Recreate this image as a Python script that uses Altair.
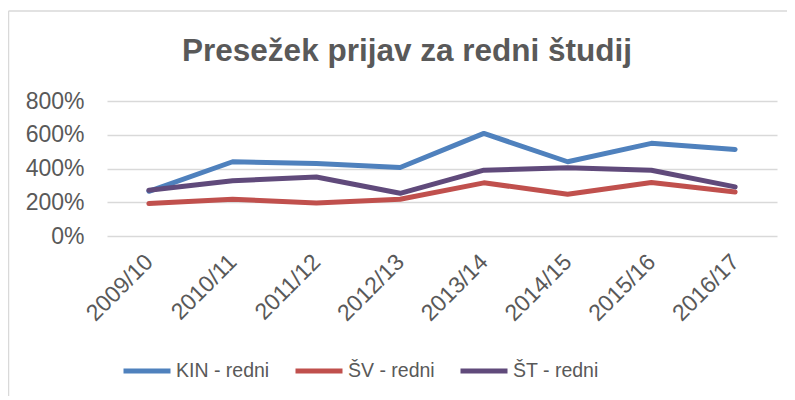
import altair as alt
import pandas as pd

years = ["2009/10", "2010/11", "2011/12", "2012/13", "2013/14", "2014/15", "2015/16", "2016/17"]
series_names = ["KIN - redni", "ŠV - redni", "ŠT - redni"]
kin = [2.65, 4.40, 4.30, 4.06, 6.08, 4.40, 5.49, 5.13]
sv = [1.92, 2.18, 1.96, 2.18, 3.15, 2.48, 3.17, 2.61]
st = [2.71, 3.27, 3.50, 2.53, 3.90, 4.04, 3.90, 2.91]
colors = ["#4F81BD", "#C0504D", "#604A7B"]
y_ticks = [0, 2, 4, 6, 8]

rows = []
for name, vals in zip(series_names, [kin, sv, st]):
    for y, v in zip(years, vals):
        rows.append({"Leto": y, "Serija": name, "Vrednost": v})
df = pd.DataFrame(rows)

FONT = "Liberation Sans"
GRAY = "#595959"

lines = alt.Chart(df).mark_line(strokeWidth=5, strokeCap="round", strokeJoin="round").encode(
    x=alt.X("Leto:N", sort=years,
            scale=alt.Scale(type="point", padding=0.5),
            axis=alt.Axis(title=None, labelAngle=-45, labelAlign="right", labelBaseline="middle",
                          labelPadding=22, ticks=False, domain=False, labelFontSize=23,
                          labelColor=GRAY, labelFont=FONT)),
    y=alt.Y("Vrednost:Q", scale=alt.Scale(domain=[0, 8], nice=False),
            axis=alt.Axis(title=None, values=y_ticks, format=".0%", ticks=False, domain=False,
                          labelPadding=23, labelFontSize=23, labelColor=GRAY, labelFont=FONT,
                          gridColor="#d9d9d9", gridWidth=1.5)),
    color=alt.Color("Serija:N", sort=series_names,
                    scale=alt.Scale(domain=series_names, range=colors),
                    legend=alt.Legend(title=None, orient="none", direction="horizontal",
                                      legendX=14, legendY=244, symbolType="stroke",
                                      symbolSize=2209, symbolStrokeWidth=5,
                                      labelFontSize=19.5, labelColor=GRAY, labelFont=FONT,
                                      labelOffset=3, columnPadding=15, padding=0)),
)

frame_df = pd.DataFrame({"a": [0]})
left_border = alt.Chart(frame_df).mark_rule(color="#d9d9d9", strokeWidth=1.5).encode(
    x=alt.value(-98.5), y=alt.value(-90), y2=alt.value(300))
top_border = alt.Chart(frame_df).mark_rule(color="#d9d9d9", strokeWidth=1.5).encode(
    x=alt.value(-98.5), x2=alt.value(690), y=alt.value(-90))

chart = alt.layer(left_border, top_border, lines).properties(
    width=670, height=135,
    title=alt.TitleParams("Presežek prijav za redni študij", anchor="middle", frame="group",
                          fontSize=31.5, fontWeight="bold", color=GRAY, font=FONT,
                          baseline="alphabetic", dx=-35, offset=-82),
    autosize=alt.AutoSizeParams(type="none"),
    padding={"left": 99, "top": 93, "right": 10, "bottom": 160},
).configure_view(stroke=None)

chart.save("out.html", embed_options={"renderer": "svg", "actions": False})
